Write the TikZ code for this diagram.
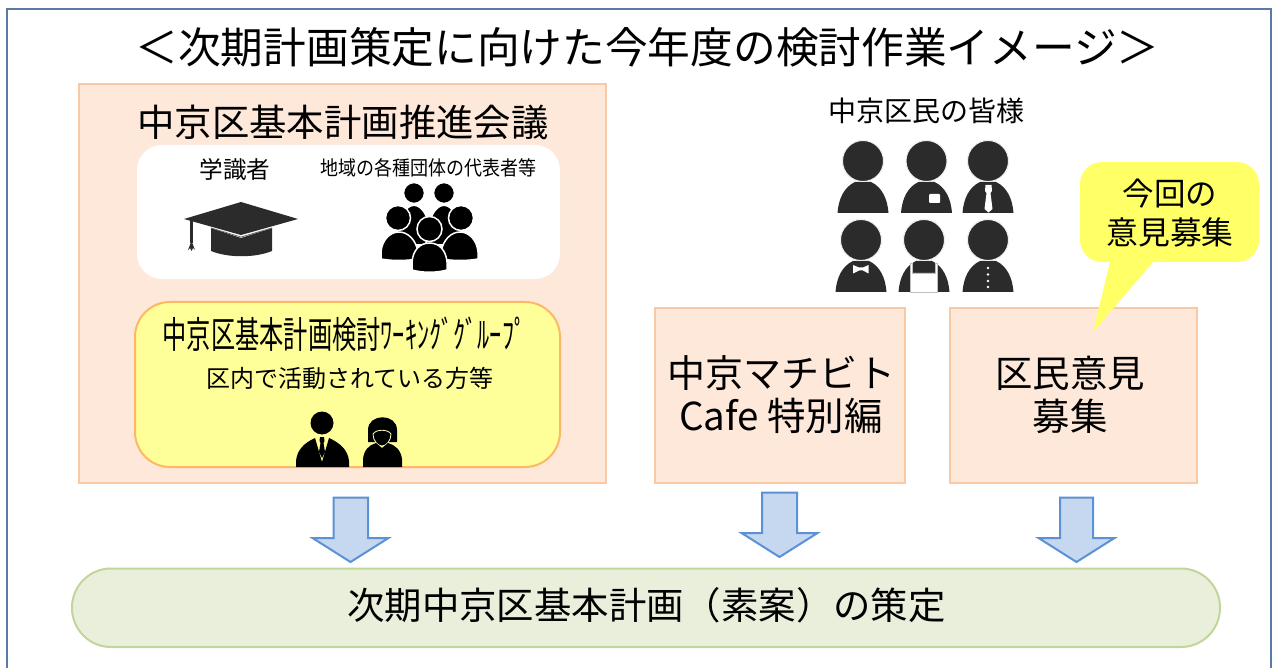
\documentclass[tikz,border=0pt]{standalone}
\usepackage{fontspec}
\setmainfont{Noto Sans CJK JP}
\definecolor{framec}{HTML}{5B7BA6}
\definecolor{peach}{HTML}{FDE8DA}
\definecolor{peachl}{HTML}{F9C8A4}
\definecolor{ylw}{HTML}{FFFF99}
\definecolor{ylwl}{HTML}{FDB866}
\definecolor{callc}{HTML}{FFFF66}
\definecolor{arrf}{HTML}{C6D8EF}
\definecolor{arrl}{HTML}{5B91D6}
\definecolor{grnf}{HTML}{EAEFDC}
\definecolor{grnl}{HTML}{C0D69B}
\definecolor{icon}{HTML}{2B2B2B}
\newcommand{\fs}[1]{\fontsize{#1}{#1}\selectfont}
\tikzset{
  x=1pt,y=-1pt,
  panel/.style={draw=peachl,line width=2pt,fill=peach},
  blockarrow/.style={draw=arrl,line width=2pt,fill=arrf,line join=miter},
  txt/.style={inner sep=0pt,outer sep=0pt,text=black,align=center},
  dome/.pic={
    \fill[icon] (-25.5,52) .. controls (-24.5,38) and (-19,26) .. (-8,21)
      -- (8,21)
      .. controls (19,26) and (24.5,38) .. (25.5,52) -- cycle;
    \filldraw[fill=icon,draw=white!92!icon,line width=1pt] (0,0) circle (20.5);
  },
  blackbody/.style={fill=black,draw=white,line width=1.5pt},
}
\begin{document}
\begin{tikzpicture}
\useasboundingbox (0,0) rectangle (1272,668);
\fill[white] (0,0) rectangle (1272,668);
\draw[framec,line width=1.6pt] (7,668) -- (7,9) -- (1271,9) -- (1271,668);
\node[txt] (title) at (647.5,47) {\fs{42.7}＜次期計画策定に向けた今年度の検討作業イメージ＞};

% left panel
\draw[panel] (79,84) rectangle (606,483);
\node[txt] (council) at (343,122) {\fs{37.4}中京区基本計画推進会議};
\fill[white,rounded corners=25pt] (137,145) rectangle (560,279);
\node[txt] (scholar) at (235,170) {\fs{23.6}学識者};
\node[txt] (groups) at (428,168) {\scalebox{.9}[1]{\fs{20}地域の各種団体の代表者等}};

% mortarboard
\fill[icon] (211,228) -- (241,238) -- (272,228) -- (272,251) .. controls (255,258) and (228,258) .. (211,251) -- cycle;
\fill[icon] (184,219) -- (241,202) -- (298,219) -- (241,235) -- cycle;
\draw[icon!70!white,line width=.8pt] (211,228) -- (241,237) -- (272,228);
\fill[icon] (190,220) rectangle (193,243);
\fill[icon] (191.5,241) -- (195,250) -- (193,248) -- (191.5,251) -- (190,248) -- (188,250) -- cycle;

% group icon
\filldraw[blackbody] (396,245) .. controls (398,192) and (430,192) .. (432,245) -- cycle;
\filldraw[blackbody] (426,245) .. controls (428,192) and (460,192) .. (462,245) -- cycle;
\filldraw[black,draw=white,line width=1.5pt] (414,193) circle (10.5);
\filldraw[black,draw=white,line width=1.5pt] (444,193) circle (10.5);
\filldraw[blackbody] (381,259) -- (381,252) .. controls (382,240) and (390,232) .. (399,232) .. controls (408,232) and (416,240) .. (418,252) -- (418,259) .. controls (405,261) and (392,261) .. (381,259) -- cycle;
\filldraw[blackbody] (441,259) -- (441,252) .. controls (443,240) and (451,232) .. (460,232) .. controls (469,232) and (477,240) .. (478,252) -- (478,259) .. controls (467,261) and (454,261) .. (441,259) -- cycle;
\filldraw[black,draw=white,line width=1.5pt] (398,218) circle (12.5);
\filldraw[black,draw=white,line width=1.5pt] (461,218) circle (12.5);
\filldraw[blackbody] (412,270) -- (412,262) .. controls (413,250) and (420,243) .. (429.5,243) .. controls (439,243) and (446,250) .. (447,262) -- (447,270) .. controls (436,273) and (423,273) .. (412,270) -- cycle;
\filldraw[black,draw=white,line width=1.5pt] (429.5,229) circle (12.5);

% working group
\draw[draw=ylwl,line width=2pt,fill=ylw,rounded corners=35pt] (135,302) rectangle (560,467);
\node[txt] (wg) at (344.5,334) {\scalebox{.655}[1]{\fs{37}中京区基本計画検討ﾜｰｷﾝｸﾞｸﾞﾙｰﾌﾟ}};
\node[txt] (wgsub) at (350,378) {\fs{24}区内で活動されている方等};

% man
\fill[black] (296,467) -- (296,461) .. controls (297,450) and (304,443) .. (315,438) -- (322,462) -- (329,438) .. controls (340,443) and (348,450) .. (349,461) -- (349,467) -- cycle;
\fill[black] (322,423) circle (11.5);
\fill[black] (320,437) -- (324,437) -- (324.5,441) -- (323.5,443) -- (325,452) -- (322,458) -- (319,452) -- (320.5,443) -- (319.5,441) -- cycle;
% woman
\fill[black] (368,442) -- (368,430) .. controls (368,413) and (397,413) .. (397,430) -- (397,442) -- cycle;
\filldraw[fill=black,draw=ylw!60!white,line width=.8pt] (373,434) .. controls (376,429) and (388,429) .. (391,434) .. controls (391,441) and (386,446) .. (382,446) .. controls (378,446) and (373,441) .. (373,434) -- cycle;
\fill[black] (363,467) -- (363,459) .. controls (364,450) and (369,445) .. (376,443) -- (382,448) -- (388,443) .. controls (395,445) and (401,450) .. (402,459) -- (402,467) -- cycle;

% citizens
\node[txt] (citizens) at (926,111) {\fs{28}中京区民の皆様};
\pic at (863,161) {dome};
\pic at (926.5,161) {dome};
\pic at (988,161) {dome};
\pic at (861,240) {dome};
\pic at (924,240) {dome};
\pic at (988,240) {dome};
% pocket
\fill[white,rounded corners=1pt] (929,194) rectangle (940,203);
% tie
\fill[white] (985.5,185) -- (991.5,185) -- (992,191) -- (990.5,193) -- (992.5,209) -- (988.5,212.5) -- (984.5,209) -- (986.5,193) -- (985,191) -- cycle;
% bow tie
\fill[white] (853,265) -- (859,267.5) -- (863,267.5) -- (868.5,265) -- (868.5,273.5) -- (863,270.5) -- (859,270.5) -- (853,273.5) -- cycle;
% apron
\filldraw[fill=white,draw=black!25,line width=.6pt] (910.5,263) -- (910.5,292) -- (937,292) -- (937,263) -- (935,263) -- (935,273) -- (912.5,273) -- (912.5,263) -- cycle;
% buttons
\foreach \yy in {268,274.5,281,287}
  \fill[white] (988,\yy) circle (1.3);

% other boxes
\node[panel,outer sep=0pt,minimum width=250pt,minimum height=175pt,inner sep=0pt,anchor=north west] (cafe) at (655,308) {};
\node[panel,outer sep=0pt,minimum width=247pt,minimum height=175pt,inner sep=0pt,anchor=north west] (opinion) at (950,308) {};
\node[txt] (cafe1) at (781,373) {\fs{38}中京マチビト};
\node[txt] (cafe2) at (781,416) {\fs{38.5}Cafe 特別編};
\node[txt] (op1) at (1070,373) {\fs{37.4}区民意見};
\node[txt] (op2) at (1070,416) {\fs{37.4}募集};

% callout
\fill[callc] (1110,255) -- (1153,255) -- (1153,262) -- (1093,332) -- (1110,262) -- cycle;
\fill[callc,rounded corners=22pt] (1080,162) rectangle (1259,262);
\node[txt] (call1) at (1170,194) {\fs{31.5}今回の};
\node[txt] (call2) at (1170,232) {\fs{31.8}意見募集};

% arrows
\draw[blockarrow] (333.5,497.5) -- (368,497.5) -- (368,538) -- (388.5,538) -- (350.5,562) -- (312.5,538) -- (333.5,538) -- cycle;
\draw[blockarrow] (762,492.5) -- (797,492.5) -- (797,533) -- (817.5,533) -- (779.5,557) -- (741.5,533) -- (762,533) -- cycle;
\draw[blockarrow] (1060,497.5) -- (1093,497.5) -- (1093,538) -- (1114.5,538) -- (1076.5,562) -- (1038.5,538) -- (1060,538) -- cycle;

% plan
\draw[draw=grnl,line width=2pt,fill=grnf,rounded corners=39pt] (72,568.5) rectangle (1220,647);
\node[txt] (plan) at (646.5,605) {\fs{37.4}次期中京区基本計画（素案）の策定};
\end{tikzpicture}
\end{document}
